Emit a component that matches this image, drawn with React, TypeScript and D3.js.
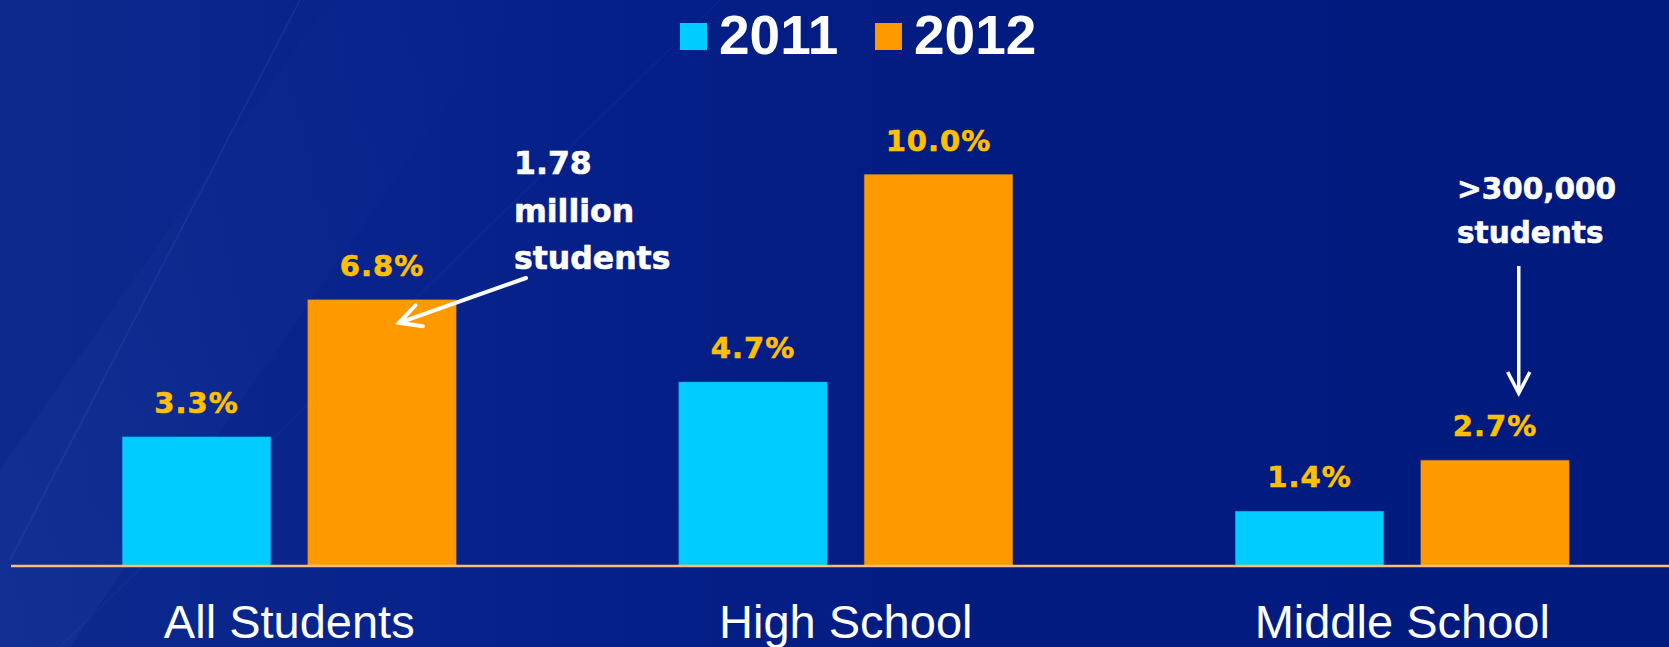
import React from "react";
import * as d3 from "d3";

// Share of students, by school level and year (percent)
const categories = ["All Students", "High School", "Middle School"];
const years = ["2011", "2012"];
const values2011 = [3.3, 4.7, 1.4];
const values2012 = [6.8, 10.0, 2.7];
const seriesColors = ["#00CCFF", "#FF9900"];

// Callout notes
const noteAll = ["1.78", "million", "students"];
const noteMiddle = [">300,000", "students"];

const W = 1669;
const H = 647;
const baseY = 566;

export default function App() {
  const x0 = d3
    .scaleBand<string>()
    .domain(categories)
    .range([11, 1680.5])
    .paddingInner(0.4)
    .paddingOuter(0.2);
  const x1 = d3
    .scaleBand<string>()
    .domain(years)
    .range([0, x0.bandwidth()])
    .paddingInner(0.2);
  const y = d3.scaleLinear().domain([0, 10]).range([baseY, 174.5]);
  const fmt = (v: number) => d3.format(".1f")(v) + "%";

  const series = [values2011, values2012];
  const bars = categories.flatMap((c, ci) =>
    years.map((yr, si) => ({
      cat: c,
      year: yr,
      v: series[si][ci],
      x: (x0(c) ?? 0) + (x1(yr) ?? 0),
      color: seriesColors[si],
    }))
  );

  // arrow anchors derived from the target bars
  const allBarX = (x0("All Students") ?? 0) + (x1("2012") ?? 0);
  const tip1 = { x: allBarX + x1.bandwidth() * 0.615, y: y(6.8) + 23 };
  const tail1 = { x: 526, y: 278 };
  const ang1 = Math.atan2(tail1.y - tip1.y, tail1.x - tip1.x);
  const msBarX = (x0("Middle School") ?? 0) + (x1("2012") ?? 0);
  const tip2 = { x: msBarX + x1.bandwidth() * 0.66, y: y(2.7) - 67 };
  const tail2 = { x: tip2.x, y: 266 };
  const ang2 = Math.atan2(tail2.y - tip2.y, tail2.x - tip2.x);
  const head = (t: { x: number; y: number }, a: number, len = 24, spread = 0.48) =>
    `M${t.x + len * Math.cos(a + spread)},${t.y + len * Math.sin(a + spread)} L${t.x},${t.y} L${t.x + len * Math.cos(a - spread)},${t.y + len * Math.sin(a - spread)}`;

  const boldFont = "'DejaVu Sans', sans-serif";
  const sansFont = "'Liberation Sans', Arial, sans-serif";

  return (
    <svg
      width={W}
      height={H}
      viewBox={`0 0 ${W} ${H}`}
      style={{ position: "absolute", left: 0, top: 0, display: "block" }}
    >
      <defs>
        <linearGradient id="bg" x1="0" y1="0" x2="1" y2="0">
          <stop offset="0" stopColor="#0c2a8e" />
          <stop offset="0.35" stopColor="#06208a" />
          <stop offset="0.6" stopColor="#011b80" />
          <stop offset="1" stopColor="#001a7e" />
        </linearGradient>
        <linearGradient id="sheen" x1="0" y1="1" x2="1" y2="0">
          <stop offset="0" stopColor="#3050b0" stopOpacity="0.16" />
          <stop offset="0.5" stopColor="#3050b0" stopOpacity="0.06" />
          <stop offset="1" stopColor="#3050b0" stopOpacity="0" />
        </linearGradient>
      </defs>
      <rect width={W} height={H} fill="url(#bg)" />
      {/* soft diagonal light streaks */}
      <path d="M0,647 L0,470 L330,0 L520,0 L70,647 Z" fill="url(#sheen)" />
      <line x1={10} y1={560} x2={300} y2={0} stroke="#3a5cc0" strokeOpacity={0.2} strokeWidth={2} />
      <line x1={60} y1={647} x2={720} y2={0} stroke="#3a5cc0" strokeOpacity={0.1} strokeWidth={2} />

      {/* legend */}
      {years.map((yr, i) => {
        const lx = [680, 875][i];
        return (
          <g key={yr}>
            <rect x={lx} y={23} width={27} height={27} fill={seriesColors[i]} />
            <text
              x={lx + 39}
              y={54}
              fill="#ffffff"
              fontFamily={sansFont}
              fontWeight="bold"
              fontSize={55}
            >
              {yr}
            </text>
          </g>
        );
      })}

      {/* bars */}
      {bars.map((b) => (
        <rect
          key={b.cat + b.year}
          x={b.x}
          y={y(b.v)}
          width={x1.bandwidth()}
          height={baseY - y(b.v)}
          fill={b.color}
          stroke={b.year === "2011" ? "#1a8fd0" : "#c8803a"}
          strokeOpacity={0.4}
          strokeWidth={1}
        />
      ))}

      {/* value labels */}
      {bars.map((b) => (
        <text
          key={"l" + b.cat + b.year}
          x={b.x + x1.bandwidth() / 2}
          y={y(b.v) - 24}
          textAnchor="middle"
          fill="#FFC000"
          fontFamily={boldFont}
          fontWeight="bold"
          fontSize={29}
          letterSpacing={1}
          stroke="#FFC000"
          strokeWidth={0.6}
        >
          {fmt(b.v)}
        </text>
      ))}

      {/* baseline */}
      <line x1={11} y1={baseY} x2={W} y2={baseY} stroke="#F9BE73" strokeWidth={2.5} />

      {/* category labels */}
      {categories.map((c) => (
        <text
          key={c}
          x={(x0(c) ?? 0) + x0.bandwidth() / 2}
          y={638}
          textAnchor="middle"
          fill="#ffffff"
          fontFamily={sansFont}
          fontSize={47}
        >
          {c}
        </text>
      ))}

      {/* callouts */}
      <text
        fill="#ffffff"
        fontFamily={boldFont}
        fontWeight="bold"
        fontSize={31.5}
        stroke="#ffffff"
        strokeWidth={0.6}
      >
        {noteAll.map((t, i) => (
          <tspan key={t} x={514} y={174 + i * 47.7}>
            {t}
          </tspan>
        ))}
      </text>
      <line x1={tail1.x} y1={tail1.y} x2={tip1.x} y2={tip1.y} stroke="#ffffff" strokeWidth={4} strokeLinecap="round" />
      <path d={head(tip1, ang1)} fill="none" stroke="#ffffff" strokeWidth={4} strokeLinecap="round" strokeLinejoin="miter" />

      <text
        fill="#ffffff"
        fontFamily={boldFont}
        fontWeight="bold"
        fontSize={29.5}
        stroke="#ffffff"
        strokeWidth={0.6}
      >
        {noteMiddle.map((t, i) => (
          <tspan key={t} x={1457} y={199 + i * 43.5}>
            {t}
          </tspan>
        ))}
      </text>
      <line x1={tail2.x} y1={tail2.y} x2={tip2.x} y2={tip2.y} stroke="#ffffff" strokeWidth={3.5} />
      <path d={head(tip2, ang2, 24, 0.48)} fill="none" stroke="#ffffff" strokeWidth={3.5} strokeLinejoin="miter" />
    </svg>
  );
}
